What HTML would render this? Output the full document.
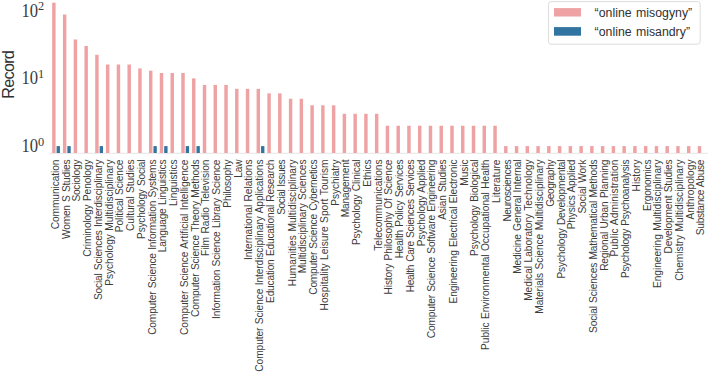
<!DOCTYPE html>
<html><head><meta charset="utf-8"><style>
html,body{margin:0;padding:0;background:#fff;}
body{width:708px;height:372px;overflow:hidden;position:relative;}
svg{position:absolute;left:0;top:0;}
.xl text{font-family:"Liberation Sans",sans-serif;font-size:10.2px;fill:#3c3c3c;word-spacing:0.7px;}
.yt{font-family:"Liberation Serif",serif;fill:#3a3a3a;}
.lg{font-family:"Liberation Sans",sans-serif;font-size:12.3px;fill:#303030;word-spacing:0.9px;}
</style></head><body>
<svg width="708" height="372" viewBox="0 0 708 372">
<rect x="0" y="0" width="708" height="372" fill="#fff"/>
<line x1="49.8" y1="153.3" x2="708" y2="153.3" stroke="#e3e3e3" stroke-width="0.9"/>
<g>
<rect x="52.15" y="2.70" width="3.45" height="150.30" fill="#eea2a3"/>
<rect x="56.60" y="146.10" width="3.35" height="6.90" fill="#3274a1"/>
<rect x="62.91" y="14.50" width="3.45" height="138.50" fill="#eea2a3"/>
<rect x="67.36" y="146.10" width="3.35" height="6.90" fill="#3274a1"/>
<rect x="73.67" y="39.50" width="3.45" height="113.50" fill="#eea2a3"/>
<rect x="84.43" y="46.00" width="3.45" height="107.00" fill="#eea2a3"/>
<rect x="95.19" y="54.80" width="3.45" height="98.20" fill="#eea2a3"/>
<rect x="99.64" y="146.10" width="3.35" height="6.90" fill="#3274a1"/>
<rect x="105.95" y="64.52" width="3.45" height="88.48" fill="#eea2a3"/>
<rect x="116.71" y="64.52" width="3.45" height="88.48" fill="#eea2a3"/>
<rect x="127.47" y="64.52" width="3.45" height="88.48" fill="#eea2a3"/>
<rect x="138.23" y="68.45" width="3.45" height="84.55" fill="#eea2a3"/>
<rect x="148.99" y="70.63" width="3.45" height="82.37" fill="#eea2a3"/>
<rect x="153.44" y="146.10" width="3.35" height="6.90" fill="#3274a1"/>
<rect x="159.75" y="72.99" width="3.45" height="80.01" fill="#eea2a3"/>
<rect x="164.20" y="146.10" width="3.35" height="6.90" fill="#3274a1"/>
<rect x="170.51" y="72.99" width="3.45" height="80.01" fill="#eea2a3"/>
<rect x="181.27" y="72.99" width="3.45" height="80.01" fill="#eea2a3"/>
<rect x="185.72" y="146.10" width="3.35" height="6.90" fill="#3274a1"/>
<rect x="192.03" y="78.35" width="3.45" height="74.65" fill="#eea2a3"/>
<rect x="196.48" y="146.10" width="3.35" height="6.90" fill="#3274a1"/>
<rect x="202.79" y="84.92" width="3.45" height="68.08" fill="#eea2a3"/>
<rect x="213.55" y="84.92" width="3.45" height="68.08" fill="#eea2a3"/>
<rect x="224.31" y="84.92" width="3.45" height="68.08" fill="#eea2a3"/>
<rect x="235.07" y="88.84" width="3.45" height="64.16" fill="#eea2a3"/>
<rect x="245.83" y="88.84" width="3.45" height="64.16" fill="#eea2a3"/>
<rect x="256.59" y="88.84" width="3.45" height="64.16" fill="#eea2a3"/>
<rect x="261.04" y="146.10" width="3.35" height="6.90" fill="#3274a1"/>
<rect x="267.35" y="93.38" width="3.45" height="59.62" fill="#eea2a3"/>
<rect x="278.11" y="93.38" width="3.45" height="59.62" fill="#eea2a3"/>
<rect x="288.87" y="98.74" width="3.45" height="54.26" fill="#eea2a3"/>
<rect x="299.63" y="98.74" width="3.45" height="54.26" fill="#eea2a3"/>
<rect x="310.39" y="105.31" width="3.45" height="47.69" fill="#eea2a3"/>
<rect x="321.15" y="105.31" width="3.45" height="47.69" fill="#eea2a3"/>
<rect x="331.91" y="105.31" width="3.45" height="47.69" fill="#eea2a3"/>
<rect x="342.67" y="113.78" width="3.45" height="39.22" fill="#eea2a3"/>
<rect x="353.43" y="113.78" width="3.45" height="39.22" fill="#eea2a3"/>
<rect x="364.19" y="113.78" width="3.45" height="39.22" fill="#eea2a3"/>
<rect x="374.95" y="113.78" width="3.45" height="39.22" fill="#eea2a3"/>
<rect x="385.71" y="125.71" width="3.45" height="27.29" fill="#eea2a3"/>
<rect x="396.47" y="125.71" width="3.45" height="27.29" fill="#eea2a3"/>
<rect x="407.23" y="125.71" width="3.45" height="27.29" fill="#eea2a3"/>
<rect x="417.99" y="125.71" width="3.45" height="27.29" fill="#eea2a3"/>
<rect x="428.75" y="125.71" width="3.45" height="27.29" fill="#eea2a3"/>
<rect x="439.51" y="125.71" width="3.45" height="27.29" fill="#eea2a3"/>
<rect x="450.27" y="125.71" width="3.45" height="27.29" fill="#eea2a3"/>
<rect x="461.03" y="125.71" width="3.45" height="27.29" fill="#eea2a3"/>
<rect x="471.79" y="125.71" width="3.45" height="27.29" fill="#eea2a3"/>
<rect x="482.55" y="125.71" width="3.45" height="27.29" fill="#eea2a3"/>
<rect x="493.31" y="125.71" width="3.45" height="27.29" fill="#eea2a3"/>
<rect x="504.07" y="146.10" width="3.45" height="6.90" fill="#eea2a3"/>
<rect x="514.83" y="146.10" width="3.45" height="6.90" fill="#eea2a3"/>
<rect x="525.59" y="146.10" width="3.45" height="6.90" fill="#eea2a3"/>
<rect x="536.35" y="146.10" width="3.45" height="6.90" fill="#eea2a3"/>
<rect x="547.11" y="146.10" width="3.45" height="6.90" fill="#eea2a3"/>
<rect x="557.87" y="146.10" width="3.45" height="6.90" fill="#eea2a3"/>
<rect x="568.63" y="146.10" width="3.45" height="6.90" fill="#eea2a3"/>
<rect x="579.39" y="146.10" width="3.45" height="6.90" fill="#eea2a3"/>
<rect x="590.15" y="146.10" width="3.45" height="6.90" fill="#eea2a3"/>
<rect x="600.91" y="146.10" width="3.45" height="6.90" fill="#eea2a3"/>
<rect x="611.67" y="146.10" width="3.45" height="6.90" fill="#eea2a3"/>
<rect x="622.43" y="146.10" width="3.45" height="6.90" fill="#eea2a3"/>
<rect x="633.19" y="146.10" width="3.45" height="6.90" fill="#eea2a3"/>
<rect x="643.95" y="146.10" width="3.45" height="6.90" fill="#eea2a3"/>
<rect x="654.71" y="146.10" width="3.45" height="6.90" fill="#eea2a3"/>
<rect x="665.47" y="146.10" width="3.45" height="6.90" fill="#eea2a3"/>
<rect x="676.23" y="146.10" width="3.45" height="6.90" fill="#eea2a3"/>
<rect x="686.99" y="146.10" width="3.45" height="6.90" fill="#eea2a3"/>
<rect x="697.75" y="146.10" width="3.45" height="6.90" fill="#eea2a3"/>
</g>
<g class="xl">
<text transform="translate(58.80,159.5) rotate(-90)" text-anchor="end" textLength="69.87" lengthAdjust="spacing">Communication</text>
<text transform="translate(69.56,159.5) rotate(-90)" text-anchor="end" textLength="79.44" lengthAdjust="spacing">Women S Studies</text>
<text transform="translate(80.32,159.5) rotate(-90)" text-anchor="end" textLength="42.07" lengthAdjust="spacing">Sociology</text>
<text transform="translate(91.08,159.5) rotate(-90)" text-anchor="end" textLength="97.22" lengthAdjust="spacing">Criminology Penology</text>
<text transform="translate(101.84,159.5) rotate(-90)" text-anchor="end" textLength="140.51" lengthAdjust="spacing">Social Sciences Interdisciplinary</text>
<text transform="translate(112.60,159.5) rotate(-90)" text-anchor="end" textLength="126.30" lengthAdjust="spacing">Psychology Multidisciplinary</text>
<text transform="translate(123.36,159.5) rotate(-90)" text-anchor="end" textLength="72.65" lengthAdjust="spacing">Political Science</text>
<text transform="translate(134.12,159.5) rotate(-90)" text-anchor="end" textLength="71.40" lengthAdjust="spacing">Cultural Studies</text>
<text transform="translate(144.88,159.5) rotate(-90)" text-anchor="end" textLength="79.42" lengthAdjust="spacing">Psychology Social</text>
<text transform="translate(155.64,159.5) rotate(-90)" text-anchor="end" textLength="175.34" lengthAdjust="spacing">Computer Science Information Systems</text>
<text transform="translate(166.40,159.5) rotate(-90)" text-anchor="end" textLength="92.69" lengthAdjust="spacing">Language Linguistics</text>
<text transform="translate(177.16,159.5) rotate(-90)" text-anchor="end" textLength="46.61" lengthAdjust="spacing">Linguistics</text>
<text transform="translate(187.92,159.5) rotate(-90)" text-anchor="end" textLength="175.41" lengthAdjust="spacing">Computer Science Artificial Intelligence</text>
<text transform="translate(198.68,159.5) rotate(-90)" text-anchor="end" textLength="157.46" lengthAdjust="spacing">Computer Science Theory Methods</text>
<text transform="translate(209.44,159.5) rotate(-90)" text-anchor="end" textLength="96.52" lengthAdjust="spacing">Film Radio Television</text>
<text transform="translate(220.20,159.5) rotate(-90)" text-anchor="end" textLength="159.50" lengthAdjust="spacing">Information Science Library Science</text>
<text transform="translate(230.96,159.5) rotate(-90)" text-anchor="end" textLength="48.19" lengthAdjust="spacing">Philosophy</text>
<text transform="translate(241.72,159.5) rotate(-90)" text-anchor="end" textLength="18.22" lengthAdjust="spacing">Law</text>
<text transform="translate(252.48,159.5) rotate(-90)" text-anchor="end" textLength="100.61" lengthAdjust="spacing">International Relations</text>
<text transform="translate(263.24,159.5) rotate(-90)" text-anchor="end" textLength="212.16" lengthAdjust="spacing">Computer Science Interdisciplinary Applications</text>
<text transform="translate(274.00,159.5) rotate(-90)" text-anchor="end" textLength="143.46" lengthAdjust="spacing">Education Educational Research</text>
<text transform="translate(284.76,159.5) rotate(-90)" text-anchor="end" textLength="55.32" lengthAdjust="spacing">Social Issues</text>
<text transform="translate(295.52,159.5) rotate(-90)" text-anchor="end" textLength="126.72" lengthAdjust="spacing">Humanities Multidisciplinary</text>
<text transform="translate(306.28,159.5) rotate(-90)" text-anchor="end" textLength="113.77" lengthAdjust="spacing">Multidisciplinary Sciences</text>
<text transform="translate(317.04,159.5) rotate(-90)" text-anchor="end" textLength="135.20" lengthAdjust="spacing">Computer Science Cybernetics</text>
<text transform="translate(327.80,159.5) rotate(-90)" text-anchor="end" textLength="150.92" lengthAdjust="spacing">Hospitality Leisure Sport Tourism</text>
<text transform="translate(338.56,159.5) rotate(-90)" text-anchor="end" textLength="46.22" lengthAdjust="spacing">Psychiatry</text>
<text transform="translate(349.32,159.5) rotate(-90)" text-anchor="end" textLength="57.82" lengthAdjust="spacing">Management</text>
<text transform="translate(360.08,159.5) rotate(-90)" text-anchor="end" textLength="85.59" lengthAdjust="spacing">Psychology Clinical</text>
<text transform="translate(370.84,159.5) rotate(-90)" text-anchor="end" textLength="27.14" lengthAdjust="spacing">Ethics</text>
<text transform="translate(381.60,159.5) rotate(-90)" text-anchor="end" textLength="91.19" lengthAdjust="spacing">Telecommunications</text>
<text transform="translate(392.36,159.5) rotate(-90)" text-anchor="end" textLength="134.94" lengthAdjust="spacing">History Philosophy Of Science</text>
<text transform="translate(403.12,159.5) rotate(-90)" text-anchor="end" textLength="98.80" lengthAdjust="spacing">Health Policy Services</text>
<text transform="translate(413.88,159.5) rotate(-90)" text-anchor="end" textLength="132.85" lengthAdjust="spacing">Health Care Sciences Services</text>
<text transform="translate(424.64,159.5) rotate(-90)" text-anchor="end" textLength="86.69" lengthAdjust="spacing">Psychology Applied</text>
<text transform="translate(435.40,159.5) rotate(-90)" text-anchor="end" textLength="178.68" lengthAdjust="spacing">Computer Science Software Engineering</text>
<text transform="translate(446.16,159.5) rotate(-90)" text-anchor="end" textLength="60.20" lengthAdjust="spacing">Asian Studies</text>
<text transform="translate(456.92,159.5) rotate(-90)" text-anchor="end" textLength="143.96" lengthAdjust="spacing">Engineering Electrical Electronic</text>
<text transform="translate(467.68,159.5) rotate(-90)" text-anchor="end" textLength="26.25" lengthAdjust="spacing">Music</text>
<text transform="translate(478.44,159.5) rotate(-90)" text-anchor="end" textLength="96.39" lengthAdjust="spacing">Psychology Biological</text>
<text transform="translate(489.20,159.5) rotate(-90)" text-anchor="end" textLength="190.41" lengthAdjust="spacing">Public Environmental Occupational Health</text>
<text transform="translate(499.96,159.5) rotate(-90)" text-anchor="end" textLength="43.50" lengthAdjust="spacing">Literature</text>
<text transform="translate(510.72,159.5) rotate(-90)" text-anchor="end" textLength="62.04" lengthAdjust="spacing">Neurosciences</text>
<text transform="translate(521.48,159.5) rotate(-90)" text-anchor="end" textLength="114.25" lengthAdjust="spacing">Medicine General Internal</text>
<text transform="translate(532.24,159.5) rotate(-90)" text-anchor="end" textLength="141.35" lengthAdjust="spacing">Medical Laboratory Technology</text>
<text transform="translate(543.00,159.5) rotate(-90)" text-anchor="end" textLength="154.30" lengthAdjust="spacing">Materials Science Multidisciplinary</text>
<text transform="translate(553.76,159.5) rotate(-90)" text-anchor="end" textLength="47.30" lengthAdjust="spacing">Geography</text>
<text transform="translate(564.52,159.5) rotate(-90)" text-anchor="end" textLength="118.98" lengthAdjust="spacing">Psychology Developmental</text>
<text transform="translate(575.28,159.5) rotate(-90)" text-anchor="end" textLength="69.84" lengthAdjust="spacing">Physics Applied</text>
<text transform="translate(586.04,159.5) rotate(-90)" text-anchor="end" textLength="54.12" lengthAdjust="spacing">Social Work</text>
<text transform="translate(596.80,159.5) rotate(-90)" text-anchor="end" textLength="173.48" lengthAdjust="spacing">Social Sciences Mathematical Methods</text>
<text transform="translate(607.56,159.5) rotate(-90)" text-anchor="end" textLength="111.35" lengthAdjust="spacing">Regional Urban Planning</text>
<text transform="translate(618.32,159.5) rotate(-90)" text-anchor="end" textLength="97.03" lengthAdjust="spacing">Public Administration</text>
<text transform="translate(629.08,159.5) rotate(-90)" text-anchor="end" textLength="118.60" lengthAdjust="spacing">Psychology Psychoanalysis</text>
<text transform="translate(639.84,159.5) rotate(-90)" text-anchor="end" textLength="31.98" lengthAdjust="spacing">History</text>
<text transform="translate(650.60,159.5) rotate(-90)" text-anchor="end" textLength="51.43" lengthAdjust="spacing">Ergonomics</text>
<text transform="translate(661.36,159.5) rotate(-90)" text-anchor="end" textLength="128.57" lengthAdjust="spacing">Engineering Multidisciplinary</text>
<text transform="translate(672.12,159.5) rotate(-90)" text-anchor="end" textLength="93.91" lengthAdjust="spacing">Development Studies</text>
<text transform="translate(682.88,159.5) rotate(-90)" text-anchor="end" textLength="121.35" lengthAdjust="spacing">Chemistry Multidisciplinary</text>
<text transform="translate(693.64,159.5) rotate(-90)" text-anchor="end" textLength="60.03" lengthAdjust="spacing">Anthropology</text>
<text transform="translate(704.40,159.5) rotate(-90)" text-anchor="end" textLength="75.63" lengthAdjust="spacing">Substance Abuse</text>
</g>
<g class="yt">
<text x="21.4" y="151.7" font-size="18.3" textLength="16.6" lengthAdjust="spacingAndGlyphs">10</text><text x="38.0" y="145.8" font-size="13.4" textLength="6.2" lengthAdjust="spacingAndGlyphs">0</text>
<text x="21.4" y="83.8" font-size="18.3" textLength="16.6" lengthAdjust="spacingAndGlyphs">10</text><text x="38.0" y="77.9" font-size="13.4" textLength="6.2" lengthAdjust="spacingAndGlyphs">1</text>
<text x="21.4" y="16.7" font-size="18.3" textLength="16.6" lengthAdjust="spacingAndGlyphs">10</text><text x="38.0" y="10.0" font-size="13.4" textLength="6.2" lengthAdjust="spacingAndGlyphs">2</text>
</g>
<text transform="translate(13.7,74.4) rotate(-90)" text-anchor="middle" font-family="Liberation Sans, sans-serif" font-size="16.3" textLength="48.6" lengthAdjust="spacing" fill="#303030">Record</text>
<rect x="548.5" y="1.6" width="151.7" height="42.6" rx="2.5" ry="2.5" fill="#fff" stroke="#d9d9d9" stroke-width="0.9"/>
<rect x="554" y="8.1" width="27" height="8.4" fill="#eea2a3"/>
<rect x="554" y="27.1" width="27" height="8.6" fill="#3274a1"/>
<text class="lg" x="594.6" y="16.8" textLength="97.6" lengthAdjust="spacing">“online misogyny”</text>
<text class="lg" x="594.6" y="35.9" textLength="95.4" lengthAdjust="spacing">“online misandry”</text>
</svg>
</body></html>
